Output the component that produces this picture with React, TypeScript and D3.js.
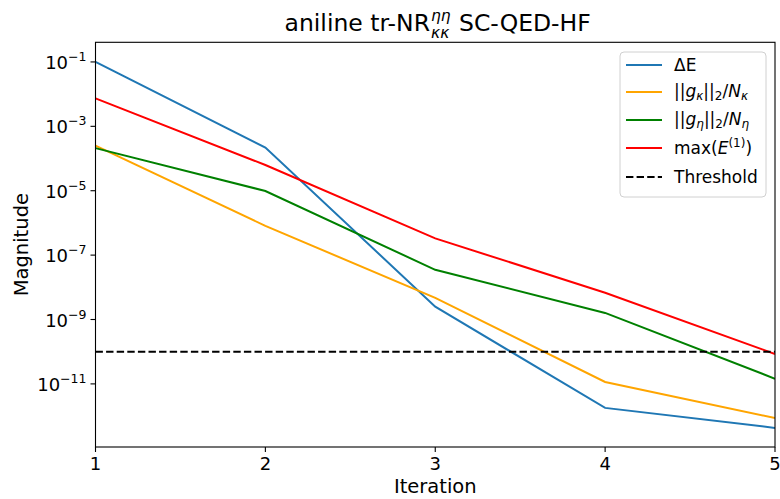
import React from "react";
import * as d3 from "d3";

// Convergence data per SCF iteration
const iterations = [1, 2, 3, 4, 5];
const deltaE = [1.0e-1, 2.2e-4, 2.5e-9, 1.8e-12, 4.3e-13];
const gradKappa = [2.5e-4, 8.1e-7, 4.7e-9, 1.15e-11, 8.7e-13];
const gradEta = [2.1e-4, 9.8e-6, 3.5e-8, 1.6e-9, 1.45e-11];
const maxE1 = [7.4e-3, 6.3e-5, 3.3e-7, 6.8e-9, 8.5e-11];
const threshold = 1e-10;

const xTicks = [1, 2, 3, 4, 5];
const yTickExponents = [-1, -3, -5, -7, -9, -11];

const seriesList = [
  { key: "dE", values: deltaE, color: "#1f77b4" },
  { key: "gk", values: gradKappa, color: "#FFA500" },
  { key: "ge", values: gradEta, color: "#008000" },
  { key: "me", values: maxE1, color: "#FF0000" },
];

const W = 780;
const H = 499;
const plot = { left: 95.5, right: 775, top: 42.3, bottom: 447 };
const FONT = "DejaVu Sans, sans-serif";

export default function App() {
  const x = d3.scaleLinear().domain([1, 5]).range([plot.left, plot.right]);
  const y = d3
    .scaleLog()
    .domain([Math.pow(10, -12.96), Math.pow(10, -0.39)])
    .range([plot.bottom, plot.top]);

  const line = d3
    .line<number>()
    .x((_, i) => x(iterations[i]))
    .y((d) => y(d));

  const legendX = 620;
  const legendY = 52;
  const legendRows = [65, 92, 120, 148, 177];

  return (
    <svg
      width={W}
      height={H}
      style={{ position: "absolute", left: 0, top: 0, background: "#fff" }}
      fontFamily={FONT}
    >
      <defs>
        <clipPath id="plotClip">
          <rect x={plot.left} y={plot.top} width={plot.right - plot.left} height={plot.bottom - plot.top} />
        </clipPath>
      </defs>

      {/* Title */}
      <g fontSize={23.5} fill="#000">
        <text x={430} y={31} textAnchor="end">aniline tr-NR</text>
        <text x={431} y={21} fontSize={15.5} fontStyle="italic">ηη</text>
        <text x={431} y={38} fontSize={15.5} fontStyle="italic">κκ</text>
        <text x={459} y={31}>SC-QED-HF</text>
      </g>

      {/* Data lines */}
      <g clipPath="url(#plotClip)">
        {seriesList.map((s) => (
          <path key={s.key} d={line(s.values) || ""} fill="none" stroke={s.color} strokeWidth={2} />
        ))}
        <line
          x1={plot.left}
          x2={plot.right}
          y1={y(threshold)}
          y2={y(threshold)}
          stroke="#000"
          strokeWidth={2}
          strokeDasharray="7.4 3.2"
        />
      </g>

      {/* Frame */}
      <rect
        x={plot.left}
        y={plot.top}
        width={plot.right - plot.left}
        height={plot.bottom - plot.top}
        fill="none"
        stroke="#000"
        strokeWidth={1.1}
      />

      {/* X axis */}
      <g fontSize={18} fill="#000">
        {xTicks.map((t) => (
          <g key={t}>
            <line x1={x(t)} x2={x(t)} y1={plot.bottom} y2={plot.bottom + 5} stroke="#000" strokeWidth={1.1} />
            <text x={x(t)} y={470} textAnchor="middle">{t}</text>
          </g>
        ))}
        <text x={(plot.left + plot.right) / 2} y={493} textAnchor="middle" fontSize={19.5}>Iteration</text>
      </g>

      {/* Y axis */}
      <g fontSize={18} fill="#000">
        {yTickExponents.map((e) => {
          const yy = y(Math.pow(10, e));
          return (
            <g key={e}>
              <line x1={plot.left - 5} x2={plot.left} y1={yy} y2={yy} stroke="#000" strokeWidth={1.1} />
              <text x={plot.left - 9} y={yy + 7} textAnchor="end">
                10
                <tspan fontSize={12.5} dy={-8}>{"\u2212" + Math.abs(e)}</tspan>
              </text>
            </g>
          );
        })}
        <text
          transform={`translate(28,${(plot.top + plot.bottom) / 2}) rotate(-90)`}
          textAnchor="middle"
          fontSize={19.5}
        >
          Magnitude
        </text>
      </g>

      {/* Legend */}
      <g fontSize={17}>
        <rect
          x={legendX}
          y={legendY}
          width={146}
          height={145}
          rx={4}
          fill="#fff"
          fillOpacity={0.8}
          stroke="#d0d0d0"
          strokeWidth={1}
        />
        {seriesList.map((s, i) => (
          <line key={s.key} x1={626} x2={662} y1={legendRows[i]} y2={legendRows[i]} stroke={s.color} strokeWidth={2} />
        ))}
        <line x1={626} x2={662} y1={legendRows[4]} y2={legendRows[4]} stroke="#000" strokeWidth={2} strokeDasharray="7.4 3.2" />
        <text x={674} y={legendRows[0] + 6}>ΔE</text>
        <text x={674} y={legendRows[1] + 5}>
          ||<tspan fontStyle="italic">g</tspan>
          <tspan fontStyle="italic" fontSize={12} dy={3}>κ</tspan>
          <tspan dy={-3}>||</tspan>
          <tspan fontSize={12} dy={3}>2</tspan>
          <tspan dy={-3}>/</tspan>
          <tspan fontStyle="italic">N</tspan>
          <tspan fontStyle="italic" fontSize={12} dy={3}>κ</tspan>
        </text>
        <text x={674} y={legendRows[2] + 5}>
          ||<tspan fontStyle="italic">g</tspan>
          <tspan fontStyle="italic" fontSize={12} dy={3}>η</tspan>
          <tspan dy={-3}>||</tspan>
          <tspan fontSize={12} dy={3}>2</tspan>
          <tspan dy={-3}>/</tspan>
          <tspan fontStyle="italic">N</tspan>
          <tspan fontStyle="italic" fontSize={12} dy={3}>η</tspan>
        </text>
        <text x={674} y={legendRows[3] + 6}>
          max(<tspan fontStyle="italic">E</tspan>
          <tspan fontSize={12} dy={-7}>(1)</tspan>
          <tspan dy={7}>)</tspan>
        </text>
        <text x={674} y={legendRows[4] + 6}>Threshold</text>
      </g>
    </svg>
  );
}
